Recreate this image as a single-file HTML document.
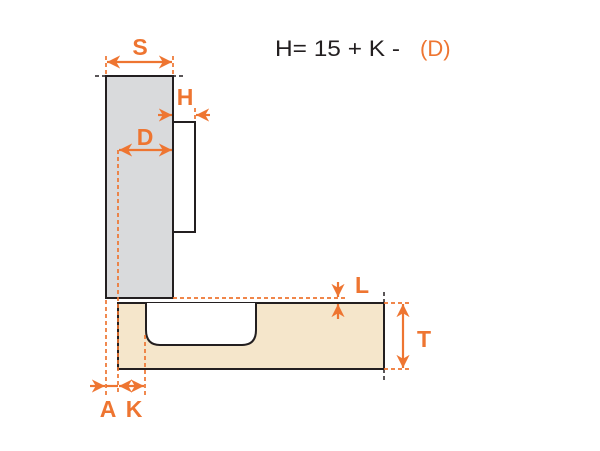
<!DOCTYPE html>
<html><head><style>body{margin:0;background:#fff}</style></head><body>
<svg width="600" height="446" viewBox="0 0 600 446" xmlns="http://www.w3.org/2000/svg" font-family="Liberation Sans, sans-serif">
<defs>
<marker id="a" viewBox="0 0 10 10" refX="10" refY="5" markerWidth="6" markerHeight="6" orient="auto-start-reverse"><path d="M0,0L10,5L0,10L3,5z" fill="#ee7531"/></marker>
</defs>
<rect x="106" y="76" width="67" height="222" fill="#d9dadc" stroke="#231f20" stroke-width="2"/>
<rect x="173" y="122" width="22" height="110" fill="#fff" stroke="#231f20" stroke-width="2"/>
<rect x="118" y="303" width="266" height="66" fill="#f5e6cb" stroke="#231f20" stroke-width="2"/>
<path d="M146,303V330Q146,345 160,345H242Q256,345 256,330V303" fill="#fff" stroke="#231f20" stroke-width="2"/>
<g stroke="#231f20" stroke-width="1.5" stroke-dasharray="4,3" fill="none">
<line x1="95" y1="76" x2="184" y2="76"/>
<line x1="384" y1="292" x2="384" y2="380"/>
</g>
<g stroke="#ee7531" stroke-width="1.7" stroke-dasharray="4,3" fill="none">
<line x1="106" y1="56" x2="106" y2="76"/><line x1="173" y1="56" x2="173" y2="76"/>
<line x1="195" y1="108" x2="195" y2="122"/>
<line x1="118" y1="150" x2="118" y2="395"/>
<line x1="106" y1="300" x2="106" y2="395"/>
<line x1="145" y1="335" x2="145" y2="395"/>
<line x1="173" y1="298" x2="345" y2="298"/>
<line x1="384" y1="303" x2="410" y2="303"/>
<line x1="384" y1="369" x2="410" y2="369"/>
</g>
<g stroke="#ee7531" stroke-width="2.2" fill="none">
<line x1="107" y1="62" x2="172" y2="62" marker-start="url(#a)" marker-end="url(#a)"/>
<line x1="158" y1="115" x2="172" y2="115" marker-end="url(#a)"/>
<line x1="210" y1="115" x2="196" y2="115" marker-end="url(#a)"/>
<line x1="119" y1="150" x2="172" y2="150" marker-start="url(#a)" marker-end="url(#a)"/>
<line x1="90" y1="386" x2="105" y2="386" marker-end="url(#a)"/>
<line x1="106" y1="386" x2="118" y2="386"/>
<line x1="119" y1="386" x2="144" y2="386" marker-start="url(#a)" marker-end="url(#a)"/>
<line x1="338" y1="282" x2="338" y2="297" marker-end="url(#a)"/>
<line x1="338" y1="319" x2="338" y2="304" marker-end="url(#a)"/>
<line x1="403" y1="304" x2="403" y2="368" marker-start="url(#a)" marker-end="url(#a)"/>
</g>
<g fill="#ee7531" font-weight="bold" font-size="23" text-anchor="middle">
<text x="140" y="55">S</text>
<text x="185" y="105">H</text>
<text x="145" y="145">D</text>
<text x="362" y="293">L</text>
<text x="424" y="347">T</text>
<text x="108" y="417">A</text>
<text x="134" y="417">K</text>
</g>
<text x="275" y="56" font-size="22" fill="#231f20" textLength="125" lengthAdjust="spacingAndGlyphs">H= 15 + K -</text>
<text x="420" y="56" font-size="22" fill="#ee7531">(D)</text>
</svg>
</body></html>
